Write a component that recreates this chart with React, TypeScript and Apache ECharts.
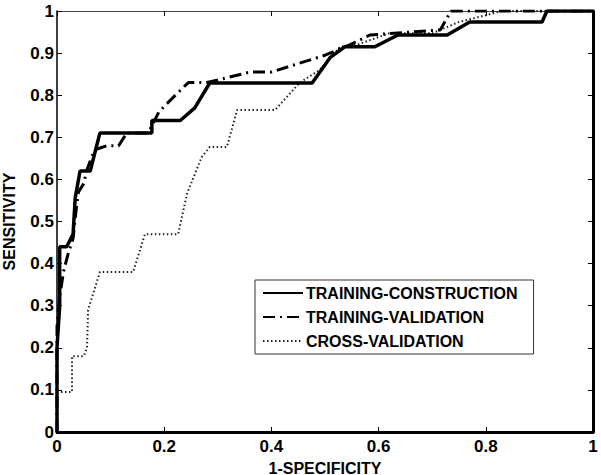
import React, { useEffect, useRef } from "react";
import * as echarts from "echarts";

const seriesNames = ["TRAINING-CONSTRUCTION", "TRAINING-VALIDATION", "CROSS-VALIDATION"];

const constructionFpr = [0, 0, 0.005, 0.005, 0.018, 0.03, 0.034, 0.043, 0.062, 0.08, 0.177, 0.177, 0.23, 0.257, 0.285, 0.476, 0.51, 0.537, 0.593, 0.636, 0.728, 0.77, 0.905, 0.914, 1];
const constructionTpr = [0, 0.2, 0.3, 0.44, 0.44, 0.47, 0.556, 0.62, 0.62, 0.71, 0.71, 0.74, 0.74, 0.77, 0.829, 0.829, 0.89, 0.915, 0.915, 0.943, 0.943, 0.974, 0.974, 1, 1];

const validationFpr = [0, 0, 0.005, 0.012, 0.02, 0.03, 0.035, 0.04, 0.05, 0.055, 0.07, 0.093, 0.115, 0.13, 0.17, 0.19, 0.205, 0.245, 0.28, 0.36, 0.4, 0.5, 0.547, 0.584, 0.715, 0.735, 1];
const validationTpr = [0, 0.25, 0.32, 0.38, 0.42, 0.46, 0.52, 0.57, 0.59, 0.62, 0.67, 0.68, 0.68, 0.71, 0.71, 0.76, 0.78, 0.83, 0.83, 0.855, 0.855, 0.895, 0.92, 0.943, 0.955, 1, 1];

const crossFpr = [0, 0, 0.028, 0.028, 0.05, 0.056, 0.058, 0.08, 0.142, 0.164, 0.226, 0.243, 0.27, 0.285, 0.317, 0.336, 0.407, 0.453, 0.49, 0.528, 0.56, 0.62, 0.7, 0.75, 0.8, 0.83, 1];
const crossTpr = [0, 0.095, 0.095, 0.18, 0.18, 0.2, 0.29, 0.38, 0.38, 0.47, 0.47, 0.568, 0.653, 0.677, 0.677, 0.765, 0.765, 0.83, 0.86, 0.915, 0.92, 0.947, 0.947, 0.974, 0.99, 1, 1];

const xTicks = [0, 0.2, 0.4, 0.6, 0.8, 1];
const yTicks = [0, 0.1, 0.2, 0.3, 0.4, 0.5, 0.6, 0.7, 0.8, 0.9, 1];

const zip = (xs: number[], ys: number[]) => xs.map((x, i) => [x, ys[i]]);

const FONT = "'Liberation Sans', Arial, sans-serif";

export default function App() {
  const ref = useRef<HTMLDivElement>(null);
  useEffect(() => {
    if (!ref.current) return;
    const chart = echarts.init(ref.current, null, { renderer: "svg" });
    const fmt = (v: number) => String(Math.round(v * 10) / 10);
    const baseAxis = {
      type: "value" as const,
      min: xTicks[0],
      max: yTicks[yTicks.length - 1],
      splitLine: { show: false },
      axisTick: { show: true, inside: true, length: 5, lineStyle: { color: "#000", width: 1 } },
    };
    chart.setOption({
      animation: false,
      backgroundColor: "#fff",
      textStyle: { fontFamily: FONT },
      grid: { left: 57, right: 8, top: 11, bottom: 43, outerBoundsMode: "none", containLabel: false },
      legend: {
        data: seriesNames,
        orient: "vertical",
        left: 255,
        top: 280,
        itemWidth: 40,
        itemHeight: 10,
        itemGap: 8,
        padding: [5, 16, 5, 7],
        borderColor: "#333",
        borderWidth: 1,
        itemStyle: { opacity: 0 },
        textStyle: { fontFamily: FONT, fontSize: 16, fontWeight: "bold", color: "#000", padding: [0, 0, 0, -2] },
      },
      xAxis: [
        {
          ...baseAxis,
          interval: 0.2,
          position: "bottom",
          axisLine: { show: true, onZero: false, lineStyle: { color: "#000", width: 3 } },
          axisLabel: { show: true, color: "#000", fontSize: 17, fontWeight: "bold", margin: 6, fontFamily: FONT, formatter: fmt },
          name: "1-SPECIFICITY",
          nameLocation: "middle",
          nameGap: 28,
          nameTextStyle: { color: "#000", fontSize: 16, fontWeight: "bold", fontFamily: FONT },
        },
        {
          ...baseAxis,
          interval: 0.2,
          position: "top",
          axisLine: { show: true, onZero: false, lineStyle: { color: "#444", width: 1 } },
          axisLabel: { show: false },
        },
      ],
      yAxis: [
        {
          ...baseAxis,
          interval: 0.1,
          position: "left",
          axisLine: { show: true, onZero: false, lineStyle: { color: "#000", width: 1.5 } },
          axisLabel: { show: true, color: "#000", fontSize: 17, fontWeight: "bold", margin: 3, fontFamily: FONT, formatter: fmt },
          name: "SENSITIVITY",
          nameLocation: "middle",
          nameGap: 40,
          nameTextStyle: { color: "#000", fontSize: 16, fontWeight: "bold", fontFamily: FONT },
        },
        {
          ...baseAxis,
          interval: 0.1,
          position: "right",
          axisLine: { show: true, onZero: false, lineStyle: { color: "#000", width: 3 } },
          axisLabel: { show: false },
        },
      ],
      series: [
        {
          name: seriesNames[0],
          type: "line",
          data: zip(constructionFpr, constructionTpr),
          showSymbol: false,
          symbol: "none",
          lineStyle: { color: "#000", width: 3.5, type: "solid" },
          itemStyle: { color: "#000" },
          z: 4,
        },
        {
          name: seriesNames[1],
          type: "line",
          data: zip(validationFpr, validationTpr),
          showSymbol: false,
          symbol: "none",
          lineStyle: { color: "#000", width: 3, type: [12, 5, 2, 5] },
          itemStyle: { color: "#000" },
          z: 3,
        },
        {
          name: seriesNames[2],
          type: "line",
          data: zip(crossFpr, crossTpr),
          showSymbol: false,
          symbol: "none",
          lineStyle: { color: "#222", width: 2, type: [1.5, 2.5] },
          itemStyle: { color: "#222" },
          z: 2,
        },
      ],
    });
    return () => chart.dispose();
  }, []);
  return (
    <div
      ref={ref}
      style={{ position: "absolute", left: 0, top: 0, width: 601, height: 475 }}
    />
  );
}
